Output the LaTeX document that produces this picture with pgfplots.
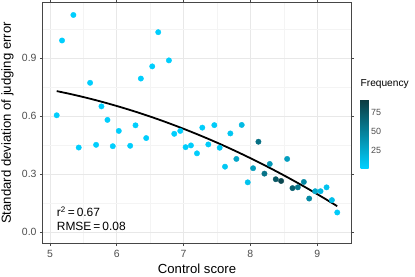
\documentclass[border=0pt]{standalone}
\usepackage{pgfplots}
\pgfplotsset{compat=1.18}
\usepackage{pgfplotstable}
\usepackage{fontspec}
\setmainfont{Liberation Sans}
\definecolor{tickgray}{RGB}{77,77,77}
\definecolor{gridmaj}{RGB}{232,232,232}
\definecolor{gridmin}{RGB}{244,244,244}
\definecolor{bordergray}{RGB}{70,70,70}

\pgfplotstableread{
x y f
5.10 0.604 3
5.18 0.991 3
5.35 1.123 3
5.43 0.437 3
5.60 0.772 3
5.69 0.451 3
5.77 0.650 3
5.86 0.580 3
5.94 0.444 3
6.03 0.523 3
6.20 0.446 3
6.28 0.552 3
6.36 0.794 3
6.44 0.486 3
6.53 0.857 3
6.62 1.034 3
6.78 0.888 3
6.86 0.508 3
6.95 0.523 3
7.03 0.439 4
7.11 0.448 4
7.20 0.407 4
7.28 0.540 4
7.37 0.453 5
7.46 0.553 5
7.54 0.436 6
7.62 0.338 7
7.70 0.510 8
7.79 0.378 28
7.87 0.554 15
7.96 0.257 10
8.04 0.330 33
8.12 0.467 60
8.21 0.302 58
8.29 0.352 35
8.38 0.273 75
8.46 0.264 85
8.55 0.378 32
8.63 0.227 70
8.71 0.231 55
8.80 0.259 45
8.88 0.173 45
8.97 0.211 25
9.05 0.211 15
9.14 0.231 10
9.22 0.165 12
9.30 0.101 5
}\scores

\pgfplotstableread{
x y
5.1 0.7291
5.3 0.7144
5.5 0.6983
5.7 0.6808
5.9 0.6619
6.1 0.6417
6.3 0.6202
6.5 0.5973
6.7 0.5730
6.9 0.5473
7.1 0.5203
7.3 0.4920
7.5 0.4623
7.7 0.4312
7.9 0.3987
8.1 0.3649
8.3 0.3298
8.5 0.2933
8.7 0.2554
8.9 0.2161
9.1 0.1755
9.3 0.1336
}\fitline

\begin{document}
\begin{tikzpicture}
\useasboundingbox (-43bp,-34bp) rectangle (372bp,243bp);
\begin{axis}[
  at={(0,0)}, anchor=south west,
  scale only axis,
  width=308bp, height=240bp,
  xmin=4.895, xmax=9.506,
  ymin=-0.057, ymax=1.185,
  xtick={5,6,7,8,9},
  ytick={0,0.3,0.6,0.9},
  minor xtick={5.5,6.5,7.5,8.5},
  minor ytick={0.15,0.45,0.75,1.05},
  grid=both,
  major grid style={draw=gridmaj, line width=0.9bp},
  minor grid style={draw=gridmin, line width=0.6bp},
  axis line style={draw=bordergray, line width=1bp},
  tick align=outside,
  major tick length=3bp,
  minor tick length=0pt,
  tick style={draw=bordergray, line width=0.8bp},
  ticklabel style={text=tickgray, font=\fontsize{10.5}{12}\selectfont},
  /pgf/number format/assume math mode=true,
  yticklabel style={/pgf/number format/.cd, fixed, fixed zerofill, precision=1},
  xticklabel style={yshift=-1bp},
  xlabel={Control score},
  ylabel={Standard deviation of judging error},
  label style={font=\fontsize{13.2}{15}\selectfont},
  xlabel style={at={(axis description cs:0.5,0)}, anchor=north, yshift=-17bp},
  ylabel style={at={(axis description cs:0,0.5)}, anchor=south, yshift=26bp},
  colormap={freq}{rgb255=(0,208,255) rgb255=(11,58,63)},
  point meta min=2, point meta max=93,
  colorbar,
  colorbar style={
    at={(parent axis.north east)}, anchor=north west,
    xshift=1bp, yshift=-96bp,
    width=8bp, height=69bp,
    scale only axis,
    ytick={25,50,75},
    axis line style={draw=none},
    major tick length=0pt,
    tick style={draw=none},
    yticklabel style={text=tickgray, font=\fontsize{9}{10}\selectfont, xshift=-1bp},
    /pgf/number format/assume math mode=true,
    title={Frequency},
    title style={at={(0,1)}, anchor=south west, inner sep=0pt, yshift=4bp, font=\fontsize{10.2}{12}\selectfont},
  },
]
\addplot[scatter, only marks, mark=*, mark size=2.7bp,
  scatter src=explicit,
  scatter/use mapped color={draw=mapped color, fill=mapped color}]
  table[x=x, y=y, meta=f] {\scores};
\addplot[black, line width=1.8bp, no marks, smooth] table[x=x, y=y] {\fitline};
\node[anchor=west, inner sep=0pt, font=\fontsize{12}{14}\selectfont] at (axis cs:5.1,0.105) {r\textsuperscript{2}\,=\,0.67};
\node[anchor=west, inner sep=0pt, font=\fontsize{12}{14}\selectfont] at (axis cs:5.1,0.030) {RMSE\,=\,0.08};
\end{axis}
\end{tikzpicture}
\end{document}
